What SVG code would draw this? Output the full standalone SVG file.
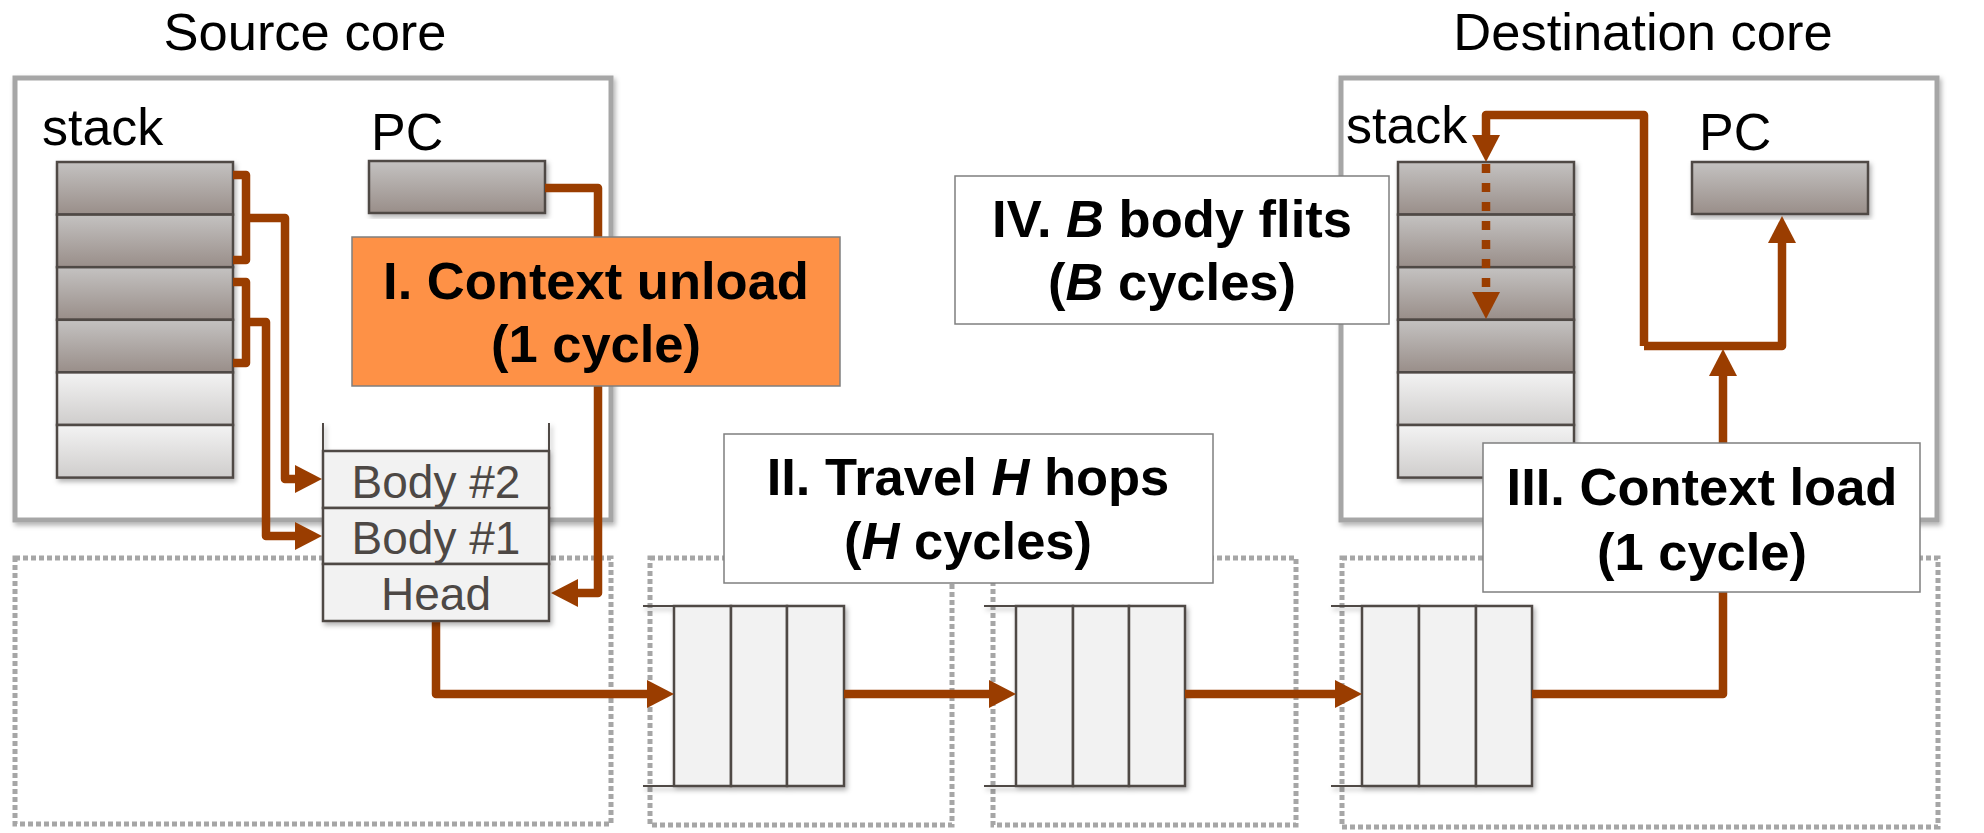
<svg xmlns="http://www.w3.org/2000/svg" width="1984" height="833" viewBox="0 0 1984 833">
<defs>
<linearGradient id="gDark" x1="0" y1="0" x2="0" y2="1"><stop offset="0" stop-color="#c4c2c1"/><stop offset="1" stop-color="#998e89"/></linearGradient>
<linearGradient id="gLight" x1="0" y1="0" x2="0" y2="1"><stop offset="0" stop-color="#f3f3f3"/><stop offset="1" stop-color="#cfcdcc"/></linearGradient>
<filter id="shadow" x="-5%" y="-5%" width="115%" height="115%"><feDropShadow dx="2" dy="3" stdDeviation="2.5" flood-color="#000" flood-opacity="0.3"/></filter>
<marker id="arr" markerUnits="userSpaceOnUse" markerWidth="27" markerHeight="28" viewBox="0 0 27 28" refX="0" refY="14" orient="auto"><path d="M0,0 L27,14 L0,28 z" fill="#9a3d00"/></marker>
<style>
.core{fill:#fff;stroke:#a6a6a6;stroke-width:5;filter:url(#shadow)}
.router{fill:none;stroke:#a6a6a6;stroke-width:5;stroke-dasharray:5 3}
.dark{fill:url(#gDark);stroke:#4f4845;stroke-width:2.5}
.light{fill:url(#gLight);stroke:#4f4845;stroke-width:2.5}
.cells{filter:url(#shadow)}
.buf{fill:#f2f2f2;stroke:#4f4845;stroke-width:2.5}
.tick{stroke:#4f4845;stroke-width:2}
.wire{fill:none;stroke:#9a3d00;stroke-width:8.5;stroke-linejoin:round}
.dash{fill:none;stroke:#9a3d00;stroke-width:8.5;stroke-dasharray:9 10}
.lbl{font-family:"Liberation Sans",Arial,sans-serif;font-size:52px;fill:#000}
.title{font-family:"Liberation Sans",Arial,sans-serif;font-size:52.5px;fill:#000;text-anchor:middle}
.box{fill:#fff;stroke:#7f7f7f;stroke-width:1.5}
.orange{fill:#fe9146;stroke:#7f7f7f;stroke-width:1.5}
.bold{font-family:"Liberation Sans",Arial,sans-serif;font-size:52.5px;font-weight:bold;fill:#000;text-anchor:middle}
.pk{font-family:"Liberation Sans",Arial,sans-serif;font-size:46px;fill:#4d4845;text-anchor:middle}
.pkrow{fill:#f2f2f2;stroke:#4f4845;stroke-width:2.5}
</style>
</defs>
<rect width="1984" height="833" fill="#fff"/>

<g id="routers">
<rect id="router-1" class="router" x="15" y="558" width="596" height="266"/>
<rect id="router-2" class="router" x="650" y="558" width="302" height="267"/>
<rect id="router-3" class="router" x="993" y="558" width="303" height="267"/>
<rect id="router-4" class="router" x="1342" y="558" width="596" height="269"/>
</g>

<g id="titles">
<text class="title" x="305" y="50">Source core</text>
<text class="title" x="1643" y="50">Destination core</text>
</g>

<g id="source-core">
<rect class="core" x="15" y="78" width="596" height="442"/>
<text class="lbl" x="42" y="145">stack</text>
<text class="lbl" x="371" y="150">PC</text>
<g id="source-stack" class="cells">
<rect class="dark" x="57" y="162" width="176" height="52.6"/>
<rect class="dark" x="57" y="214.6" width="176" height="52.6"/>
<rect class="dark" x="57" y="267.2" width="176" height="52.6"/>
<rect class="dark" x="57" y="319.8" width="176" height="52.6"/>
<rect class="light" x="57" y="372.4" width="176" height="52.6"/>
<rect class="light" x="57" y="425" width="176" height="52.6"/>
</g>
<g id="source-pc" class="cells"><rect class="dark" x="369" y="161" width="176" height="52"/></g>
</g>

<g id="dest-core">
<rect class="core" x="1341" y="78" width="596" height="442"/>
<text class="lbl" x="1346" y="143">stack</text>
<text class="lbl" x="1699" y="150">PC</text>
<g id="dest-stack" class="cells">
<rect class="dark" x="1398" y="162" width="176" height="52.6"/>
<rect class="dark" x="1398" y="214.6" width="176" height="52.6"/>
<rect class="dark" x="1398" y="267.2" width="176" height="52.6"/>
<rect class="dark" x="1398" y="319.8" width="176" height="52.6"/>
<rect class="light" x="1398" y="372.4" width="176" height="52.6"/>
<rect class="light" x="1398" y="425" width="176" height="52.6"/>
</g>
<g id="dest-pc" class="cells"><rect class="dark" x="1692" y="162" width="176" height="52"/></g>
</g>

<g id="buffer-1" class="cells">
<line class="tick" x1="643" y1="606" x2="674" y2="606"/><line class="tick" x1="643" y1="786" x2="674" y2="786"/>
<rect class="buf" x="674" y="606" width="57" height="180"/><rect class="buf" x="731" y="606" width="56" height="180"/><rect class="buf" x="787" y="606" width="57" height="180"/>
</g>
<g id="buffer-2" class="cells">
<line class="tick" x1="984" y1="606" x2="1016" y2="606"/><line class="tick" x1="984" y1="786" x2="1016" y2="786"/>
<rect class="buf" x="1016" y="606" width="57" height="180"/><rect class="buf" x="1073" y="606" width="56" height="180"/><rect class="buf" x="1129" y="606" width="56" height="180"/>
</g>
<g id="buffer-3" class="cells">
<line class="tick" x1="1331" y1="606" x2="1362" y2="606"/><line class="tick" x1="1331" y1="786" x2="1362" y2="786"/>
<rect class="buf" x="1362" y="606" width="57" height="180"/><rect class="buf" x="1419" y="606" width="57" height="180"/><rect class="buf" x="1476" y="606" width="56" height="180"/>
</g>

<g id="connectors">
<path class="wire" d="M233,175 H246 V260 H233"/>
<path class="wire" d="M246,218 H285 V479 H295" marker-end="url(#arr)"/>
<path class="wire" d="M233,282 H246 V363 H233"/>
<path class="wire" d="M246,322 H266 V536 H295" marker-end="url(#arr)"/>
<path class="wire" d="M545,188 H598 V593 H578" marker-end="url(#arr)"/>
<path class="wire" d="M436,621 V694 H647" marker-end="url(#arr)"/>
<path class="wire" d="M844,694 H989" marker-end="url(#arr)"/>
<path class="wire" d="M1185,694 H1335" marker-end="url(#arr)"/>
<path class="wire" d="M1532,694 H1723 V376" marker-end="url(#arr)"/>
<path class="wire" d="M1644,346 H1782 V243" marker-end="url(#arr)"/>
<path class="wire" d="M1644,346 V115 H1486 V135" marker-end="url(#arr)"/>
<path class="dash" d="M1486,164 V292" marker-end="url(#arr)"/>
</g>

<g id="packet" class="cells">
<line class="tick" x1="323" y1="423" x2="323" y2="451" stroke-width="2.5"/>
<line class="tick" x1="549" y1="423" x2="549" y2="451" stroke-width="2.5"/>
<rect class="pkrow" x="323" y="451" width="226" height="57"/>
<rect class="pkrow" x="323" y="508" width="226" height="56"/>
<rect class="pkrow" x="323" y="564" width="226" height="57"/>
</g>
<g id="packet-labels">
<text class="pk" x="436" y="498">Body #2</text>
<text class="pk" x="436" y="554">Body #1</text>
<text class="pk" x="436" y="610">Head</text>
</g>

<g id="step-1">
<rect class="orange" x="352" y="237" width="488" height="149"/>
<text class="bold" x="596" y="299">I. Context unload</text>
<text class="bold" x="596" y="362">(1 cycle)</text>
</g>
<g id="step-2">
<rect class="box" x="724" y="434" width="489" height="149"/>
<text class="bold" x="968" y="495">II. Travel <tspan font-style="italic">H</tspan> hops</text>
<text class="bold" x="968" y="559">(<tspan font-style="italic">H</tspan> cycles)</text>
</g>
<g id="step-3">
<rect class="box" x="1483" y="443" width="437" height="149"/>
<text class="bold" x="1702" y="505">III. Context load</text>
<text class="bold" x="1702" y="570">(1 cycle)</text>
</g>
<g id="step-4">
<rect class="box" x="955" y="176" width="434" height="148"/>
<text class="bold" x="1172" y="237">IV. <tspan font-style="italic">B</tspan> body flits</text>
<text class="bold" x="1172" y="300">(<tspan font-style="italic">B</tspan> cycles)</text>
</g>
</svg>
